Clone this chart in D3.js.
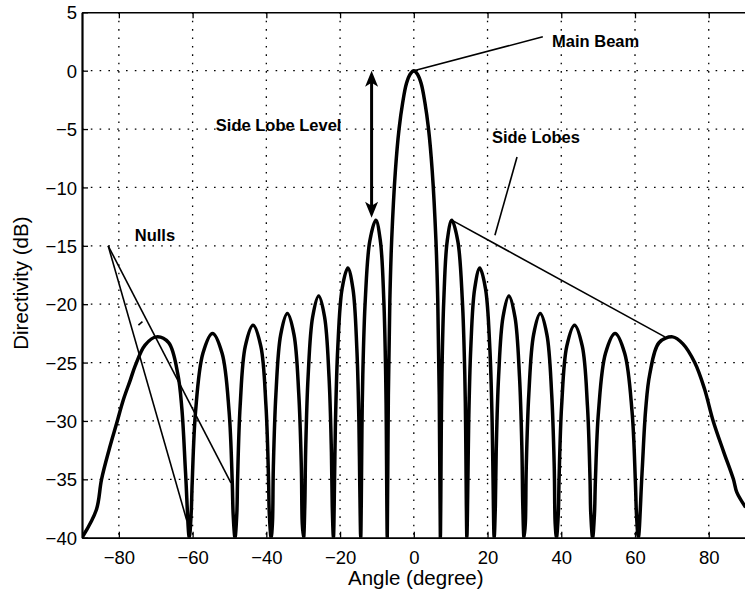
<!DOCTYPE html>
<html>
<head>
<meta charset="utf-8">
<script src="https://cdn.jsdelivr.net/npm/d3@7"></script>
<style>
  body { margin: 0; background: #fff; }
  text { font-family: "Liberation Sans", Arial, Helvetica, sans-serif; fill: #000; }
  .note { font-weight: bold; font-size: 16.5px; }
</style>
</head>
<body>
<script>
'use strict';

// tick values for both axes
const xTicks = [-80, -60, -40, -20, 0, 20, 40, 60, 80];
const yTicks = [5, 0, -5, -10, -15, -20, -25, -30, -35, -40];

// directivity pattern: [angle (deg), directivity (dB)]
const pattern = [
  [-90, -40], [-86.1, -37.6], [-84.7, -35], [-82.6, -32.4], [-80.6, -30.2], [-78.8, -28.2],
  [-76.9, -26.5], [-75.6, -25.3], [-72.9, -23.5], [-69.8, -22.8], [-66.5, -23.3], [-64.0, -26.0],
  [-62.9, -29.0], [-61.9, -34.5], [-60.9, -40],
  [-60.4, -38.0], [-60.1, -35.2], [-59.2, -29.2], [-57.2, -24.2], [-54.6, -22.5], [-52.0, -24.2],
  [-50.1, -29.2], [-49.25, -35.2], [-49.0, -38.0], [-48.5, -40],
  [-48.0, -37.9], [-47.8, -35.0], [-47.1, -28.7], [-45.7, -23.6], [-43.6, -21.8], [-41.5, -23.6],
  [-40.1, -28.7], [-39.4, -35.0], [-39.2, -37.9], [-38.7, -40],
  [-38.35, -38.8], [-38.1, -34.0], [-37.4, -27.7], [-36.1, -22.6], [-34.3, -20.8], [-32.5, -22.6],
  [-31.2, -27.7], [-30.5, -34.0], [-30.25, -38.8], [-29.9, -40],
  [-29.57, -37.3], [-29.33, -32.5], [-28.67, -26.2], [-27.44, -21.1], [-25.8, -19.3], [-24.2, -21.1],
  [-23.0, -26.2], [-22.36, -32.5], [-22.12, -37.3], [-21.8, -40],
  [-21.49, -34.9], [-21.25, -30.1], [-20.63, -23.8], [-19.46, -18.7], [-17.9, -16.9], [-16.5, -18.7],
  [-15.45, -23.8], [-14.89, -30.1], [-14.68, -34.9], [-14.4, -40],
  [-14.24, -36.8], [-14.07, -30.8], [-13.83, -26.0], [-13.17, -19.7], [-11.94, -14.6], [-10.3, -12.8],
  [-9.06, -14.6], [-8.13, -19.7], [-7.63, -26.0], [-7.45, -30.8], [-7.32, -36.8], [-7.2, -40],
  [-6.9, -27.8], [-6.5, -19.7], [-6.0, -14.5], [-5.0, -8.6], [-4.0, -5.0], [-3.0, -2.7],
  [-2.0, -1.1], [-1.0, -0.3], [0, 0], [1.0, -0.3], [2.0, -1.1], [3.0, -2.7],
  [4.0, -5.0], [5.0, -8.6], [6.0, -14.5], [6.5, -19.7], [6.9, -27.8], [7.2, -40],
  [7.32, -36.8], [7.45, -30.8], [7.63, -26.0], [8.13, -19.7], [9.06, -14.6], [10.3, -12.8],
  [11.94, -14.6], [13.17, -19.7], [13.83, -26.0], [14.07, -30.8], [14.24, -36.8], [14.4, -40],
  [14.68, -34.9], [14.89, -30.1], [15.45, -23.8], [16.5, -18.7], [17.9, -16.9], [19.46, -18.7],
  [20.63, -23.8], [21.25, -30.1], [21.49, -34.9], [21.8, -40],
  [22.12, -37.3], [22.36, -32.5], [23.0, -26.2], [24.2, -21.1], [25.8, -19.3], [27.44, -21.1],
  [28.67, -26.2], [29.33, -32.5], [29.57, -37.3], [29.9, -40],
  [30.25, -38.8], [30.5, -34.0], [31.2, -27.7], [32.5, -22.6], [34.3, -20.8], [36.1, -22.6],
  [37.4, -27.7], [38.1, -34.0], [38.35, -38.8], [38.7, -40],
  [39.2, -37.9], [39.4, -35.0], [40.1, -28.7], [41.5, -23.6], [43.6, -21.8], [45.7, -23.6],
  [47.1, -28.7], [47.8, -35.0], [48.0, -37.9], [48.5, -40],
  [49.0, -38.0], [49.25, -35.2], [50.1, -29.2], [52.0, -24.2], [54.6, -22.5], [57.2, -24.2],
  [59.2, -29.2], [60.1, -35.2], [60.4, -38.0], [60.9, -40],
  [61.9, -34.5], [62.9, -29.0], [64.0, -26.0], [66.5, -23.3], [70.2, -22.8], [73.0, -23.4],
  [76.2, -25.0], [78.8, -27.2], [81.2, -30], [84.0, -32.6], [86.7, -35], [87.6, -36.1], [90, -37.4]
];

// annotation texts and where they sit (angle, dB)
const labels = [
  { text: "Main Beam", at: [37.5, 2.05] },
  { text: "Side Lobe Level", at: [-53.7, -5.15] },
  { text: "Side Lobes", at: [21.2, -6.2] },
  { text: "Nulls", at: [-75.7, -14.55] }
];

// pointer lines of the annotations, each [from, to] in (angle, dB)
const pointers = [
  [[0, 0], [35.0, 2.9]],
  [[28.0, -7.4], [22.0, -14.1]],
  [[10.3, -12.8], [68.1, -22.8]],
  [[-82.9, -15], [-61.6, -38.5]],
  [[-82.9, -15], [-49.6, -35.3]],
  [[-74.7, -21.8], [-73.6, -21.5]]
];

// the side lobe level double arrow: angle, top and bottom in dB
const levelArrow = { angle: -11.45, top: 0, bottom: -12.6 };

(function() {

  let svgContainer = "";
  let xScale = null;
  let yScale = null;

  window.onload = function() {
    svgContainer = d3.select('body')
      .append('svg')
      .attr('width', 745)
      .attr('height', 595);

    makeScales();
    drawGrid();
    plotData();
    drawAxes();
    drawAnnotations();
  }

  function makeScales() {
    xScale = d3.scaleLinear()
      .domain([-90, 90])
      .range([82, 745.6]);

    yScale = d3.scaleLinear()
      .domain([5, -40])
      .range([12.3, 537.7]);
  }

  // dotted grid lines at every tick
  function drawGrid() {
    let grid = svgContainer.append('g');

    grid.selectAll('.vgrid')
      .data(xTicks)
      .enter()
      .append('line')
        .attr('x1', (d) => xScale(d))
        .attr('x2', (d) => xScale(d))
        .attr('y1', yScale(5))
        .attr('y2', yScale(-40))
        .attr('stroke', '#000')
        .attr('stroke-width', 1.3)
        .attr('stroke-dasharray', '1.6,6.8');

    grid.selectAll('.hgrid')
      .data(yTicks.filter((d) => d !== 5 && d !== -40))
      .enter()
      .append('line')
        .attr('x1', xScale(-90))
        .attr('x2', xScale(90))
        .attr('y1', (d) => yScale(d))
        .attr('y2', (d) => yScale(d))
        .attr('stroke', '#000')
        .attr('stroke-width', 1.3)
        .attr('stroke-dasharray', '1.6,7.2');
  }

  function plotData() {
    svgContainer.append('clipPath')
      .attr('id', 'plotArea')
      .append('rect')
        .attr('x', xScale(-90))
        .attr('y', yScale(5))
        .attr('width', xScale(90) - xScale(-90))
        .attr('height', yScale(-40) - yScale(5));

    let line = d3.line()
      .x((d) => xScale(d[0]))
      .y((d) => yScale(d[1]))
      .curve(d3.curveCatmullRom.alpha(0.5));

    svgContainer.append('path')
      .datum(pattern)
      .attr('clip-path', 'url(#plotArea)')
      .attr('d', line)
      .attr('fill', 'none')
      .attr('stroke', '#000')
      .attr('stroke-width', 3.5)
      .attr('stroke-linejoin', 'round');
  }

  function drawAxes() {
    // bottom axis with inward ticks
    let xAxis = d3.axisBottom(xScale)
      .tickValues(xTicks)
      .tickSize(-6)
      .tickSizeOuter(0)
      .tickFormat((d) => d3.format('')(d).replace('-', '\u2212'));
    let gx = svgContainer.append('g')
      .attr('transform', 'translate(0,' + yScale(-40) + ')')
      .call(xAxis);
    gx.select('.domain').attr('stroke-width', 1.8);
    gx.selectAll('.tick line').attr('stroke-width', 1.3);
    gx.selectAll('.tick text')
      .attr('dy', 0)
      .attr('y', 26)
      .style('font-size', '18.5px')
      .style('font-family', '"Liberation Sans", Arial, sans-serif');

    // top edge of the box with inward ticks
    let xTop = d3.axisTop(xScale)
      .tickValues(xTicks)
      .tickSize(-6)
      .tickSizeOuter(0)
      .tickFormat('');
    let gt = svgContainer.append('g')
      .attr('transform', 'translate(0,' + yScale(5) + ')')
      .call(xTop);
    gt.select('.domain').attr('stroke-width', 1.6);
    gt.selectAll('.tick line').attr('stroke-width', 1.3);

    // left axis with inward ticks
    let yAxis = d3.axisLeft(yScale)
      .tickValues(yTicks)
      .tickSize(-6)
      .tickSizeOuter(0)
      .tickFormat((d) => d3.format('')(d).replace('-', '\u2212'));
    let gy = svgContainer.append('g')
      .attr('transform', 'translate(' + xScale(-90) + ',0)')
      .call(yAxis);
    gy.select('.domain').attr('stroke-width', 2.2);
    gy.selectAll('.tick line').attr('stroke-width', 1.3);
    gy.selectAll('.tick text')
      .attr('x', -5)
      .attr('dy', '0.36em')
      .style('font-size', '18.5px')
      .style('font-family', '"Liberation Sans", Arial, sans-serif');

    // axis titles
    svgContainer.append('text')
      .attr('x', xScale(0) + 2)
      .attr('y', 585)
      .attr('text-anchor', 'middle')
      .style('font-size', '20.5px')
      .text('Angle (degree)');

    svgContainer.append('text')
      .attr('transform', 'translate(28,' + yScale(-18.2) + ') rotate(-90)')
      .attr('text-anchor', 'middle')
      .style('font-size', '20.5px')
      .text('Directivity (dB)');
  }

  function drawAnnotations() {
    svgContainer.selectAll('.pointer')
      .data(pointers)
      .enter()
      .append('line')
        .attr('x1', (d) => xScale(d[0][0]))
        .attr('y1', (d) => yScale(d[0][1]))
        .attr('x2', (d) => xScale(d[1][0]))
        .attr('y2', (d) => yScale(d[1][1]))
        .attr('stroke', '#000')
        .attr('stroke-width', 1.6);

    svgContainer.selectAll('.note')
      .data(labels)
      .enter()
      .append('text')
        .attr('class', 'note')
        .attr('x', (d) => xScale(d.at[0]))
        .attr('y', (d) => yScale(d.at[1]))
        .text((d) => d.text);

    // double headed arrow for the side lobe level
    let ax = xScale(levelArrow.angle);
    let yTop = yScale(levelArrow.top);
    let yBot = yScale(levelArrow.bottom);

    svgContainer.append('line')
      .attr('x1', ax)
      .attr('x2', ax)
      .attr('y1', yTop + 8)
      .attr('y2', yBot - 8)
      .attr('stroke', '#000')
      .attr('stroke-width', 3);

    // arrow heads with a notched back
    let head = 'M0,0 L6.5,16 L0,12 L-6.5,16 Z';
    svgContainer.append('path')
      .attr('d', head)
      .attr('transform', 'translate(' + ax + ',' + yTop + ')')
      .attr('fill', '#000');
    svgContainer.append('path')
      .attr('d', head)
      .attr('transform', 'translate(' + ax + ',' + yBot + ') rotate(180)')
      .attr('fill', '#000');
  }

})();
</script>
</body>
</html>
